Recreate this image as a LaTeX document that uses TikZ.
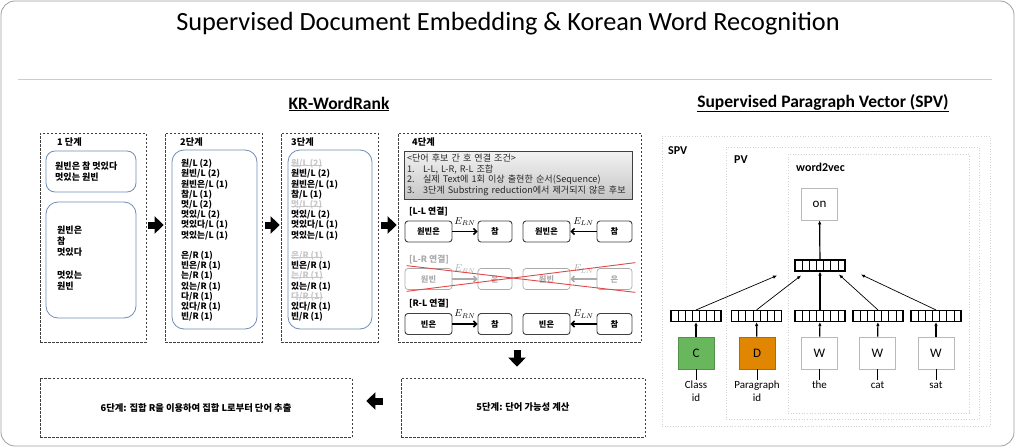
\documentclass[tikz,border=0pt]{standalone}
\usepackage{fontspec}
\setmainfont{Carlito}
\newfontfamily\kr{Noto Sans CJK KR}
\usepackage{tikz}
\usetikzlibrary{arrows.meta,calc,positioning}
\definecolor{edge}{HTML}{404040}
\definecolor{frame}{HTML}{6F8DB5}
\definecolor{pale}{HTML}{ABABAB}
\definecolor{cross}{HTML}{E04848}
\definecolor{cgreen}{HTML}{68B75C}
\definecolor{dorange}{HTML}{E08600}
\newcommand\gone[1]{{\color{gray!45}\setbox0\hbox{#1}\rlap{\rule[0.3ex]{\wd0}{0.5pt}}\box0}}

\begin{document}
\begin{tikzpicture}[x=1pt,y=-1pt,
  stage/.style={draw=edge,dash pattern=on 2.5pt off 1.5pt,line width=0.7pt,inner sep=0pt,font=\kr\bfseries\fontsize{9.3}{11}\selectfont},
  inbox/.style={draw=frame,line width=0.8pt,rounded corners=12pt},
  lbl/.style={font=\kr\bfseries\fontsize{9.2}{11}\selectfont,anchor=west,inner sep=0pt},
  lst/.style={font=\kr\bfseries\fontsize{8.7}{10.2}\selectfont,align=left,anchor=west,inner sep=0pt},
  blk/.style={line width=7pt,-{Triangle[length=9pt,width=17pt]}},
  wbox/.style={draw=edge,rounded corners=3pt,line width=0.9pt,minimum height=21,inner sep=0pt,font=\kr\bfseries\fontsize{8.2}{10}\selectfont},
  rel/.style={line width=1.6pt,-{Straight Barb[length=3pt,width=6pt]}},
  elab/.style={midway,above=5pt,font=\fontsize{10}{11}\selectfont,inner sep=0pt},
  dotbox/.style={draw=gray!35,dotted,line width=0.7pt,inner sep=0pt},
  tag/.style={font=\bfseries\fontsize{12}{13}\selectfont,anchor=west,inner sep=0pt},
  vec/.style={draw,line width=1.1pt,minimum width=50,minimum height=11,inner sep=0pt,
    path picture={\foreach \i in {1,...,6}{\draw[line width=0.6pt]
      ($(path picture bounding box.north west)!\i/7!(path picture bounding box.north east)$) --
      ($(path picture bounding box.south west)!\i/7!(path picture bounding box.south east)$);}}},
  cbox/.style={draw=gray!55,line width=0.8pt,minimum width=36,minimum height=32,inner sep=0pt,font=\fontsize{13}{14}\selectfont},
  lab/.style={font=\fontsize{11}{12.5}\selectfont,align=center,anchor=north,inner sep=1pt},
  up/.style={line width=1.2pt,-{Latex[length=4pt,width=3.5pt]}},
  dia/.style={line width=0.7pt,-{Latex[length=4pt,width=3.5pt]}}]
\useasboundingbox (0,0) rectangle (1029,447);
\draw[gray!75,line width=0.8pt,rounded corners=14pt] (1,1) rectangle (1014,446);
\node[font=\fontsize{26.3}{30}\selectfont] (title) at (508,24) {Supervised Document Embedding \& Korean Word Recognition};
\draw[gray!40,line width=0.7pt] (18,79) -- (992,79);
\node[font=\bfseries\fontsize{17.5}{19}\selectfont] (krt) at (339,104) {\underline{KR-WordRank}};
\node[font=\bfseries\fontsize{17.5}{19}\selectfont] (spvt) at (823,103) {\underline{Supervised Paragraph Vector (SPV)}};

% KR-WordRank stages
\node[stage,minimum width=106,minimum height=209] (s1) at (93,237.5) {};
\node[stage,minimum width=97,minimum height=209] (s2) at (213.5,237.5) {};
\node[stage,minimum width=97,minimum height=209] (s3) at (329.5,237.5) {};
\node[stage,minimum width=243,minimum height=209] (s4) at (519.5,237.5) {};
\node[stage,minimum width=244,minimum height=59] (s5) at (523,407.5) {5단계: 단어 가능성 계산};
\node[stage,minimum width=312,minimum height=59] (s6) at (196,407.5) {6단계: 집합 R을 이용하여 집합 L로부터 단어 추출};
\draw[blk,shorten <=2pt,shorten >=1pt] ([yshift=12.5pt]s1.east) -- ([yshift=12.5pt]s2.west);
\draw[blk,shorten <=3pt,shorten >=1pt] ([yshift=12.5pt]s2.east) -- ([yshift=12.5pt]s3.west);
\draw[blk,shorten <=3pt,shorten >=1pt] ([yshift=12.5pt]s3.east) -- ([yshift=12.5pt]s4.west);
\draw[blk,shorten <=8pt,shorten >=11pt] ([xshift=-2.5pt]s4.south) -- ([xshift=-2.5pt]s4.south |- s5.north);
\draw[blk,shorten <=18pt,shorten >=14pt] ([yshift=6.5pt]s5.west) -- ([yshift=6.5pt]s5.west -| s6.east);

\node[lbl] (l1) at (57,142) {1 단계};
\node[lbl] (l2) at (180,142) {2단계};
\node[lbl] (l3) at (291,142) {3단계};
\node[lbl] (l4) at (412,142) {4단계};

\draw[inbox,rounded corners=9pt] (46,151) rectangle (136,192);
\node[lst,font=\kr\bfseries\fontsize{9}{10.8}\selectfont] (t1a) at (55,171.5) {원빈은 참 멋있다\\멋있는 원빈};
\draw[inbox] (46,202) rectangle (136,318);
\node[lst,font=\kr\bfseries\fontsize{9}{11.2}\selectfont] (t1b) at (57,258) {원빈은\\참\\멋있다\\[11.2pt]멋있는\\원빈};
\draw[inbox] (172,150) rectangle (257,329);
\node[lst] (t2) at (181,240.5) {원/L (2)\\원빈/L (2)\\원빈은/L (1)\\참/L (1)\\멋/L (2)\\멋있/L (2)\\멋있다/L (1)\\멋있는/L (1)\\[10.2pt]은/R (1)\\빈은/R (1)\\는/R (1)\\있는/R (1)\\다/R (1)\\있다/R (1)\\빈/R (1)};
\draw[inbox] (288,150) rectangle (372,329);
\node[lst] (t3) at (291,240.5) {\gone{원/L (2)}\\원빈/L (2)\\원빈은/L (1)\\참/L (1)\\\gone{멋/L (2)}\\멋있/L (2)\\멋있다/L (1)\\멋있는/L (1)\\[10.2pt]\gone{은/R (1)}\\빈은/R (1)\\\gone{는/R (1)}\\있는/R (1)\\\gone{다/R (1)}\\있다/R (1)\\빈/R (1)};

% 4th stage
\node[draw=edge,line width=0.7pt,top color=gray!10,bottom color=gray!45,minimum width=228,minimum height=48,
  text width=222,align=left,inner sep=3pt,font=\kr\fontsize{9.1}{10.5}\selectfont,text=black!85] (cond) at (518,175)
  {<단어 후보 간 호 연결 조건>\\\makebox[16pt][l]{1.}L-L, L-R, R-L 조합\\\makebox[16pt][l]{2.}실제 Text에 1회 이상 출현한 순서(Sequence)\\\makebox[16pt][l]{3.}3단계 Substring reduction에서 제거되지 않은 후보};
\node[lbl,font=\kr\bfseries\fontsize{8.8}{10}\selectfont] (h1) at (409,212) {[L-L 연결]};
\node[lbl,font=\kr\bfseries\fontsize{8.8}{10}\selectfont,text=pale] (h2) at (409,260) {[L-R 연결]};
\node[lbl,font=\kr\bfseries\fontsize{8.8}{10}\selectfont] (h3) at (409,304) {[R-L 연결]};

\node[wbox,minimum width=47] (a1) at (428.5,231.5) {원빈은};
\node[wbox,minimum width=34] (b1) at (495,231.5) {참};
\node[wbox,minimum width=47] (c1) at (546.5,231.5) {원빈은};
\node[wbox,minimum width=35] (d1) at (614.5,231.5) {참};
\draw[rel] (a1) -- (b1) node[elab] {$E_{RN}$};
\draw[rel] (d1) -- (c1) node[elab] {$E_{LN}$};

\node[wbox,minimum width=47,draw=pale,text=pale,line width=0.7pt] (a2) at (428.5,279) {원빈};
\node[wbox,minimum width=34,draw=pale,text=pale,line width=0.7pt] (b2) at (495,279) {은};
\node[wbox,minimum width=47,draw=pale,text=pale,line width=0.7pt] (c2) at (546.5,279) {원빈};
\node[wbox,minimum width=35,draw=pale,text=pale,line width=0.7pt] (d2) at (614.5,279) {은};
\draw[rel,draw=pale] (a2) -- (b2) node[elab,text=pale] {$E_{RN}$};
\draw[rel,draw=pale] (d2) -- (c2) node[elab,text=pale] {$E_{LN}$};
\draw[cross,line width=0.9pt] ([xshift=2pt,yshift=2.5pt]a2.north west) -- ([xshift=3pt,yshift=-2.5pt]d2.south east);
\draw[cross,line width=0.9pt] ([xshift=2pt,yshift=-1.5pt]a2.south west) -- ([xshift=3pt,yshift=5.5pt]d2.north east);

\node[wbox,minimum width=47] (a3) at (428.5,324) {빈은};
\node[wbox,minimum width=34] (b3) at (495,324) {참};
\node[wbox,minimum width=47] (c3) at (546.5,324) {빈은};
\node[wbox,minimum width=35] (d3) at (614.5,324) {참};
\draw[rel] (a3) -- (b3) node[elab] {$E_{RN}$};
\draw[rel] (d3) -- (c3) node[elab] {$E_{LN}$};

% SPV model
\node[dotbox,minimum width=328,minimum height=290] (spv) at (826,281) {};
\node[dotbox,minimum width=253,minimum height=272] (pv) at (852.5,283) {};
\node[dotbox,minimum width=181,minimum height=259] (w2v) at (878.5,283.5) {};
\node[tag] (spvl) at (668,151) {SPV};
\node[tag] (pvl) at (734,160) {PV};
\node[tag] (w2vl) at (796,167) {word2vec};

\node[cbox] (on) at (819.5,204) {on};
\node[vec] (hv) at (820,265.5) {};
\foreach \n/\x in {1/696,2/756.5,3/820,4/878,5/936} \node[vec] (v\n) at (\x,316) {};
\node[cbox,fill=cgreen,draw=cgreen!80!black] (c) at (696,353) {C};
\node[cbox,fill=dorange,draw=dorange!80!black] (d) at (757,353) {D};
\node[cbox] (w1) at (819.5,353) {W};
\node[cbox] (w2) at (877.5,353) {W};
\node[cbox] (w3) at (936,353) {W};
\node[lab] (lc) at (696,380) {Class\\id};
\node[lab] (ld) at (757,380) {Paragraph\\id};
\node[lab] (lw1) at (819.5,380) {the};
\node[lab] (lw2) at (877.5,380) {cat};
\node[lab] (lw3) at (936,380) {sat};
\foreach \a/\b in {lc/c,ld/d,lw1/w1,lw2/w2,lw3/w3} \draw[line width=1pt] (\a) -- (\b);
\foreach \a/\b in {c/v1,d/v2,w1/v3,w2/v4,w3/v5} \draw[up] (\a) -- (\b);
\draw[up] (hv) -- (on);
\coordinate (e1) at ($(hv.south)+(-43,4)$);
\coordinate (e2) at ($(hv.south)+(-19,4)$);
\coordinate (e4) at ($(hv.south)+(19,3)$);
\coordinate (e5) at ($(hv.south)+(41,3)$);
\draw[dia] (v1.north) -- (e1); \draw[dia] (v2.north) -- (e2);
\draw[up] (v3) -- (hv);
\draw[dia] (v4.north) -- (e4); \draw[dia] (v5.north) -- (e5);
\end{tikzpicture}
\end{document}
